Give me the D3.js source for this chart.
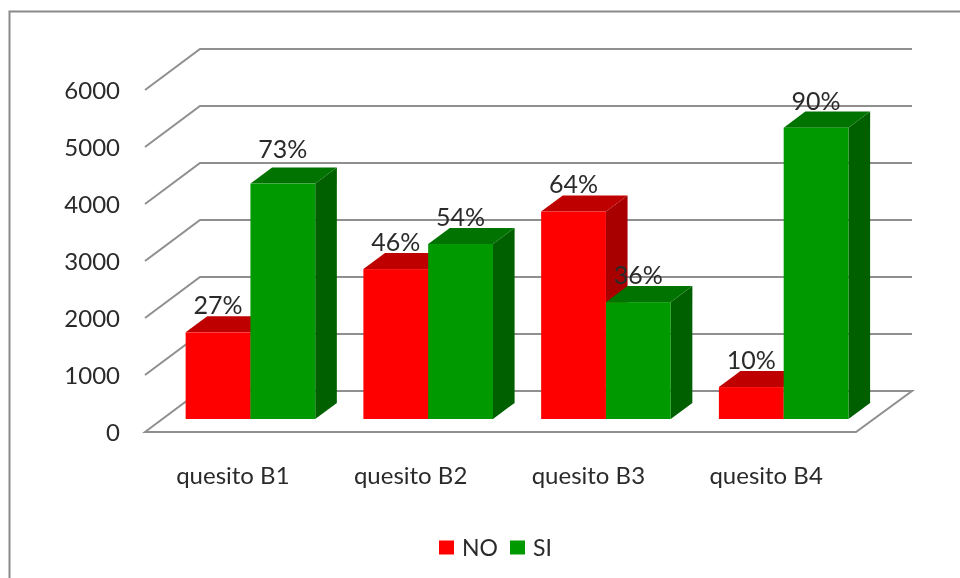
<!DOCTYPE html>
<html>
<head>
<meta charset="utf-8">
<script src="https://cdn.jsdelivr.net/npm/d3@7"></script>
<style>
  html, body { margin: 0; padding: 0; background: #fff; }
  svg { display: block; }
  text { font-family: Lato, "Open Sans", sans-serif; fill: #2b2b2b; }
</style>
</head>
<body>
<div id="chart"></div>
<script>
// --------------------------------------
//  Data
// --------------------------------------
const categories = ["quesito B1", "quesito B2", "quesito B3", "quesito B4"];
const seriesNames = ["NO", "SI"];
const noValues = [1520, 2630, 3640, 560];
const siValues = [4130, 3070, 2050, 5110];
const noLabels = ["27%", "46%", "64%", "10%"];
const siLabels = ["73%", "54%", "36%", "90%"];
const yTicks = [0, 1000, 2000, 3000, 4000, 5000, 6000];

// --------------------------------------
//  Canvas
// --------------------------------------
const width = 960;
const height = 578;

const svg = d3.select("#chart")
  .append("svg")
    .attr("width", width)
    .attr("height", height);

const defs = svg.append("defs");
defs.append("filter")
    .attr("id", "soft")
    .append("feGaussianBlur")
    .attr("stdDeviation", 0.45);
defs.append("filter")
    .attr("id", "softText")
    .append("feGaussianBlur")
    .attr("stdDeviation", 0.3);

const plot = svg.append("g").attr("filter", "url(#soft)");

// frame, only top and left are visible in the crop
plot.append("path")
    .attr("d", "M9.5,578V11.5H960")
    .attr("fill", "none")
    .attr("stroke", "#8a8a8a")
    .attr("stroke-width", 2);

// --------------------------------------
//  Scales
// --------------------------------------
const x = d3.scaleBand()
    .domain(categories)
    .range([145, 856])
    .paddingInner(0)
    .paddingOuter(0);

const y = d3.scaleLinear()
    .domain([0, 6000])
    .range([432, 90]);

// depth goes from the front of the floor (0) to the back wall (1)
const depthX = d3.scaleLinear().domain([0, 1]).range([0, 55]);
const depthY = d3.scaleLinear().domain([0, 1]).range([0, -41]);

const barInset = 23.2;
const barWidth = 64.8;
const z0 = 0.317;
const z1 = 0.71;

const colors = {
  NO: {front: "#ff0000", top: "#bf0000", side: "#a80000"},
  SI: {front: "#009900", top: "#007300", side: "#006100"}
};

// --------------------------------------
//  Walls and gridlines
// --------------------------------------
const gridColor = "#8f8f8f";
const rightX = 912;

plot.append("path")
    .attr("d", `M${x.range()[0]},${y(0)}L${x.range()[0] + depthX(1)},${y(0) + depthY(1)}L${rightX},${y(0) + depthY(1)}L${x.range()[1]},${y(0)}Z`)
    .attr("fill", "#fff")
    .attr("stroke", gridColor)
    .attr("stroke-width", 2);

plot.append("g")
    .selectAll("path")
    .data(yTicks.filter(d => d > 0))
    .join("path")
    .attr("d", d => `M${x.range()[0]},${y(d)}L${x.range()[0] + depthX(1)},${y(d) + depthY(1)}H${rightX}`)
    .attr("fill", "none")
    .attr("stroke", gridColor)
    .attr("stroke-width", 2);

// --------------------------------------
//  Bars
// --------------------------------------
const bars = [];
categories.forEach((c, i) => {
  bars.push({cat: c, s: "NO", idx: 0, v: noValues[i], label: noLabels[i]});
  bars.push({cat: c, s: "SI", idx: 1, v: siValues[i], label: siLabels[i]});
});

const barGroup = plot.append("g")
    .selectAll("g")
    .data(bars)
    .join("g");

const fx = d => x(d.cat) + barInset + depthX(z0) + d.idx * barWidth;
const fy0 = depthY(z0);
const fy = d => y(d.v) + fy0;
const dd = depthX(z1) - depthX(z0);
const dh = depthY(z1) - depthY(z0);

// side
barGroup.append("path")
    .attr("d", d => `M${fx(d) + barWidth},${fy(d)}l${dd},${dh}V${y(0) + fy0 + dh}l${-dd},${-dh}Z`)
    .attr("fill", d => colors[d.s].side);

// top
barGroup.append("path")
    .attr("d", d => `M${fx(d)},${fy(d)}l${dd},${dh}h${barWidth}l${-dd},${-dh}Z`)
    .attr("fill", d => colors[d.s].top);

// front
barGroup.append("rect")
    .attr("x", fx)
    .attr("y", fy)
    .attr("width", barWidth)
    .attr("height", d => y(0) - y(d.v))
    .attr("fill", d => colors[d.s].front);

// --------------------------------------
//  Text
// --------------------------------------
const labels = svg.append("g").attr("filter", "url(#softText)");

labels.append("g")
    .selectAll("text")
    .data(yTicks)
    .join("text")
    .attr("x", 120)
    .attr("y", d => y(d) + 8.5)
    .attr("text-anchor", "end")
    .attr("font-size", 24)
    .text(d => d);

labels.append("g")
    .selectAll("text")
    .data(categories)
    .join("text")
    .attr("x", d => x(d) + x.bandwidth() / 2 - 1)
    .attr("y", 484)
    .attr("text-anchor", "middle")
    .attr("font-size", 24)
    .text(d => d);

// the 73% label sits higher than the others in the original
labels.append("g")
    .selectAll("text")
    .data(bars)
    .join("text")
    .attr("x", d => fx(d) + barWidth / 2)
    .attr("y", d => fy(d) + dh - 2 + (d.label === "73%" ? -7 : 0))
    .attr("text-anchor", "middle")
    .attr("font-size", 25)
    .text(d => d.label);

// --------------------------------------
//  Legend
// --------------------------------------
const legendX = d3.scaleOrdinal().domain(seriesNames).range([439, 510]);

const legendItems = labels.append("g")
    .selectAll("g")
    .data(seriesNames)
    .join("g");

legendItems.append("rect")
    .attr("x", d => legendX(d))
    .attr("y", 540.5)
    .attr("width", 15)
    .attr("height", 14)
    .attr("fill", d => colors[d].front);

legendItems.append("text")
    .attr("x", d => legendX(d) + 23)
    .attr("y", 555.5)
    .attr("font-size", 23)
    .text(d => d);
</script>
</body>
</html>
